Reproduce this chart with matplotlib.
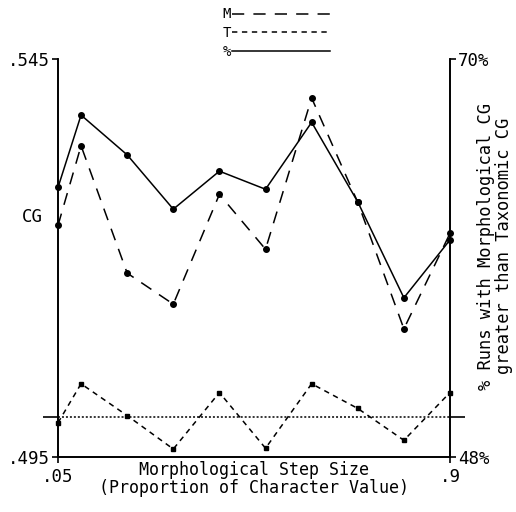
import matplotlib
matplotlib.use("Agg")
import matplotlib.pyplot as plt
from matplotlib.ticker import FixedLocator

# Morphological step size (proportion of character value)
step_size = [0.05, 0.1, 0.2, 0.3, 0.4, 0.5, 0.6, 0.7, 0.8, 0.9]
# Morphological CG (left axis)
cg_morph = [0.5241, 0.5341, 0.5181, 0.5142, 0.5280, 0.5211, 0.5401, 0.5270, 0.5111, 0.5231]
# Taxonomic CG (left axis)
cg_tax = [0.4993, 0.5042, 0.5002, 0.4960, 0.5031, 0.4961, 0.5042, 0.5011, 0.4971, 0.5031]
# % runs with morphological CG greater than taxonomic CG (right axis)
pct_greater = [62.9, 66.9, 64.7, 61.7, 63.8, 62.8, 66.5, 62.1, 56.8, 60.0]
# reference level on the CG axis
cg_reference = 0.500

x_ticks = [0.05, 0.9]
x_ticklabels = [".05", ".9"]
cg_ticks = [0.495, 0.545]
cg_ticklabels = [".495", ".545"]
pct_ticks = [48, 70]
pct_ticklabels = ["48%", "70%"]

FONT = "DejaVu Sans Mono"
FS = 11.5
plt.rcParams["font.family"] = FONT
plt.rcParams["font.size"] = FS

fig = plt.figure(figsize=(5.16, 5.12), dpi=100)
ax = fig.add_axes([58 / 516, 1 - 457 / 512, (450 - 58) / 516, (457 - 59) / 512])
ax2 = ax.twinx()

lw = 1.1
ms = 4.0

lm, = ax.plot(step_size, cg_morph, color="black", lw=lw, dashes=(8, 6),
              marker="o", ms=ms, clip_on=False, zorder=3)
lt, = ax.plot(step_size, cg_tax, color="black", lw=lw, dashes=(3.5, 3),
              marker="s", ms=ms - 0.5, clip_on=False, zorder=3)
ax.axhline(cg_reference, color="black", lw=lw, dashes=(1.3, 1.3), zorder=2)
lp, = ax2.plot(step_size, pct_greater, color="black", lw=lw,
               marker="o", ms=ms, clip_on=False, zorder=3)

ax.set_xlim(0.05, 0.9)
ax.set_ylim(0.495, 0.545)
ax2.set_ylim(48, 70)

for a in (ax, ax2):
    a.spines["top"].set_visible(False)
    for s in a.spines.values():
        s.set_linewidth(1.2)

ax.set_xticks(x_ticks)
ax.set_xticklabels(x_ticklabels, fontsize=12.5)
ax.set_yticks(cg_ticks)
ax.set_yticklabels(cg_ticklabels, fontsize=12.5)
ax2.set_yticks(pct_ticks)
ax2.set_yticklabels(pct_ticklabels, fontsize=12.5)

ax.tick_params(axis="x", direction="inout", length=8, width=1.2, pad=4)
ax.tick_params(axis="y", direction="out", length=4, width=1.2, pad=2)
ax2.tick_params(axis="y", direction="out", length=4, width=1.2, pad=2)

# longer outward ticks marking the reference level on both sides
ax.yaxis.set_minor_locator(FixedLocator([cg_reference]))
ax.tick_params(axis="y", which="minor", direction="out", length=11, width=1.2)
pct_ref = 48 + (cg_reference - 0.495) / 0.05 * 22
ax2.yaxis.set_minor_locator(FixedLocator([pct_ref]))
ax2.tick_params(axis="y", which="minor", direction="out", length=11, width=1.2)

ax.set_xlabel("Morphological Step Size\n(Proportion of Character Value)",
              labelpad=-18, linespacing=1.0, fontsize=12)
ax.set_ylabel("CG", rotation=0, fontsize=12.5)
ax.yaxis.set_label_coords(-0.065, 0.58)
ax2.set_ylabel("% Runs with Morphological CG\ngreater than Taxonomic CG",
               rotation=90, linespacing=1.0, fontsize=12.3)
ax2.yaxis.set_label_coords(1.07, 0.53)

leg = fig.legend([lm, lt, lp], ["M", "T", "%"], loc="upper center",
                 bbox_to_anchor=(0.535, 1.01), frameon=False, markerfirst=False,
                 handlelength=7.0, handletextpad=0.1, labelspacing=0.35,
                 fontsize=10)
for h in leg.legend_handles:
    h.set_marker("")

fig.savefig("out.png", dpi=100)
